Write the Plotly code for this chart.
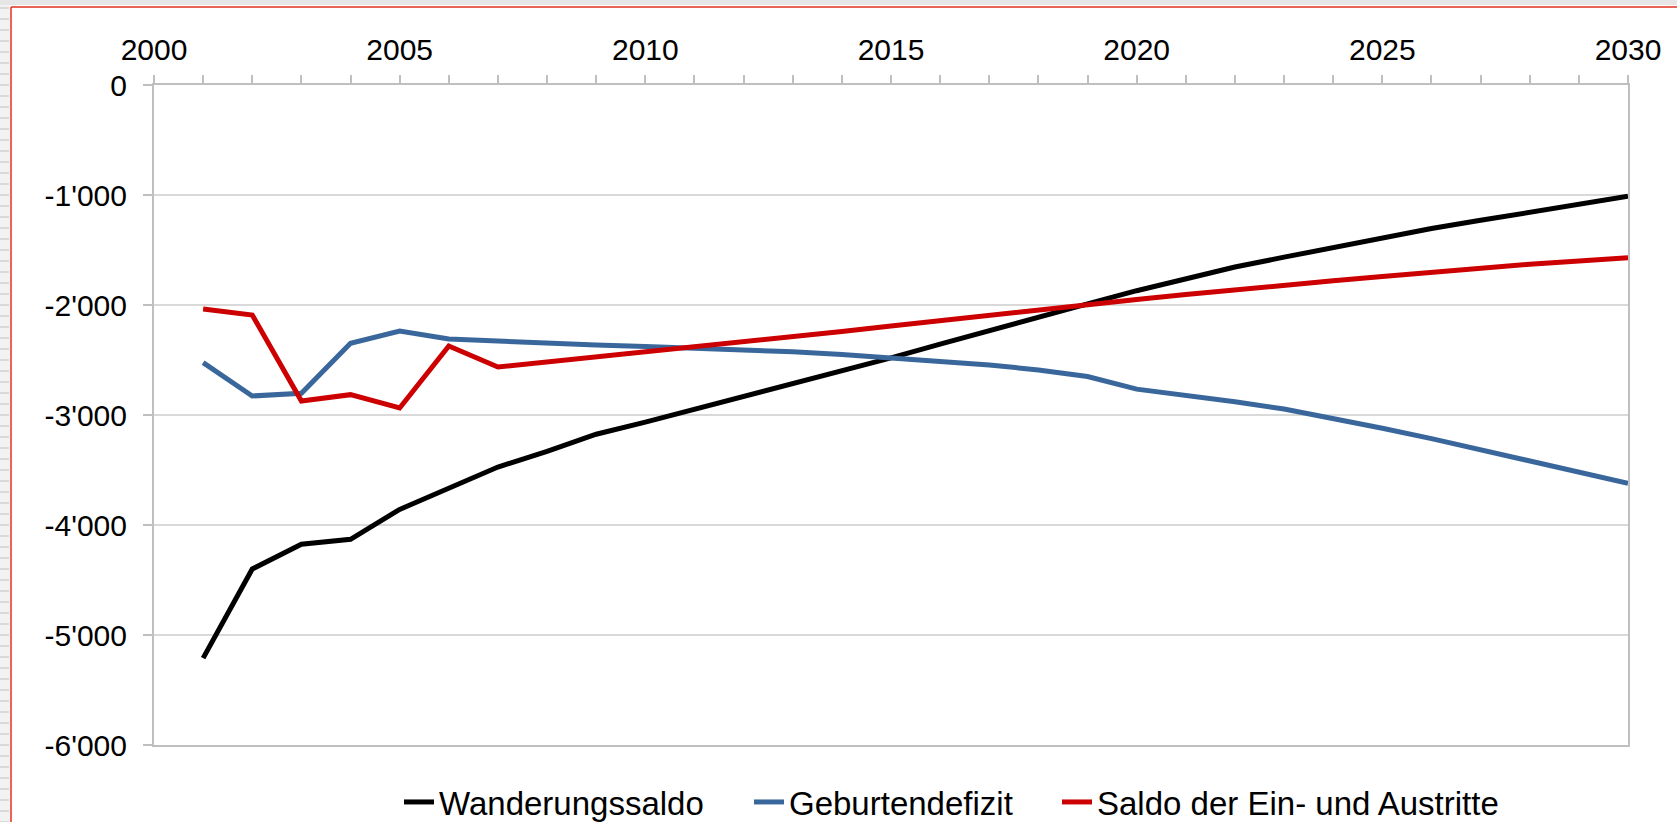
import plotly.graph_objects as go

years = list(range(2001, 2031))

wanderungssaldo = [-5210, -4400, -4175, -4130, -3858, -3667, -3473, -3330, -3175, -3065,
                   -2950, -2830, -2715, -2600, -2480, -2355, -2230, -2110, -1990, -1870,
                   -1760, -1655, -1565, -1475, -1390, -1305, -1230, -1155, -1085, -1012]

geburtendefizit = [-2524, -2827, -2803, -2348, -2236, -2309, -2327, -2348, -2364, -2378,
                   -2390, -2405, -2425, -2450, -2478, -2510, -2545, -2590, -2650, -2765,
                   -2820, -2880, -2945, -3030, -3120, -3215, -3315, -3415, -3515, -3620]

saldo_ein_aus = [-2036, -2091, -2873, -2815, -2936, -2373, -2564, -2518, -2473, -2430,
                 -2385, -2340, -2290, -2240, -2190, -2140, -2090, -2045, -1995, -1950,
                 -1905, -1860, -1820, -1780, -1740, -1700, -1665, -1630, -1600, -1570]

series_names = ["Wanderungssaldo", "Geburtendefizit", "Saldo der Ein- und Austritte"]
series_colors = ["#000000", "#3A679B", "#CC0000"]

x_tickvals = [2000, 2005, 2010, 2015, 2020, 2025, 2030]
x_ticktext = ["2000", "2005", "2010", "2015", "2020", "2025", "2030"]
y_tickvals = [0, -1000, -2000, -3000, -4000, -5000, -6000]
y_ticktext = ["0", "-1'000", "-2'000", "-3'000", "-4'000", "-5'000", "-6'000"]

W, H = 1677, 822
L, R, T, B = 154, 49, 85, 77
PW, PH = W - L - R, H - T - B


def px(x):
    return (x - L) / PW


def py(y):
    return (H - B - y) / PH


font = "Liberation Sans, Arial, sans-serif"
legend_ids = ["legend", "legend2", "legend3"]
legend_left_px = [399, 749, 1057]

fig = go.Figure()
for vals, name, color, lid in zip([wanderungssaldo, geburtendefizit, saldo_ein_aus], series_names,
                                  series_colors, legend_ids):
    fig.add_trace(go.Scatter(x=years, y=vals, mode="lines", name=name, legend=lid,
                             line=dict(color=color, width=5)))

axis_gray = "#BFBFBF"

shapes = []
shapes.append(dict(type="rect", xref="paper", yref="paper", x0=px(0), x1=px(10), y0=py(822), y1=py(0),
                   fillcolor="#F2F2F2", line=dict(width=0), layer="below"))
shapes.append(dict(type="rect", xref="paper", yref="paper", x0=px(0), x1=px(W), y0=py(5), y1=py(0),
                   fillcolor="#E6E6E6", line=dict(width=0), layer="below"))
for k in range(0, 75):
    yy = 8 + k * 11
    shapes.append(dict(type="line", xref="paper", yref="paper", x0=px(0), x1=px(9), y0=py(yy), y1=py(yy),
                       line=dict(color="#D9D9D9", width=2), layer="below"))
shapes.append(dict(type="line", xref="paper", yref="paper", x0=px(11), x1=px(W), y0=py(7), y1=py(7),
                   line=dict(color="#E0301E", width=1.5)))
shapes.append(dict(type="line", xref="paper", yref="paper", x0=px(11), x1=px(11), y0=py(7), y1=py(H),
                   line=dict(color="#E0301E", width=1.5)))

legend_common = dict(orientation="h", xanchor="left", y=py(802), yanchor="middle",
                     font=dict(size=33, family=font, color="#000000"), bgcolor="rgba(0,0,0,0)",
                     borderwidth=0)

layout_legends = {}
for lid, lx in zip(legend_ids, legend_left_px):
    layout_legends[lid] = dict(legend_common, x=px(lx))

fig.update_layout(
    width=W, height=H,
    margin=dict(l=L, r=R, t=T, b=B, pad=0, autoexpand=False),
    paper_bgcolor="white", plot_bgcolor="white",
    font=dict(family=font, color="#000000"),
    showlegend=True,
    shapes=shapes,
    xaxis=dict(side="top", range=[2000, 2030], tickvals=x_tickvals, ticktext=x_ticktext,
               ticks="outside", ticklen=8, tickcolor=axis_gray, tickwidth=1.5,
               minor=dict(dtick=1, tick0=2000, ticks="outside", ticklen=8, tickcolor=axis_gray, tickwidth=1.5,
                          showgrid=False),
               showgrid=False, showline=True, linecolor=axis_gray, linewidth=2, mirror=True,
               tickfont=dict(size=30, family=font, color="#000000"), zeroline=False,
               ticklabelstandoff=3, automargin=False),
    yaxis=dict(range=[-6000, 0], tickvals=y_tickvals, ticktext=y_ticktext,
               ticks="outside", ticklen=9, tickcolor=axis_gray, tickwidth=1.5,
               showgrid=True, gridcolor="#D9D9D9", gridwidth=1.5,
               showline=True, linecolor=axis_gray, linewidth=2, mirror=True,
               tickfont=dict(size=30, family=font, color="#000000"), zeroline=False,
               ticklabelstandoff=10, automargin=False),
    **layout_legends,
)

fig.write_html("out.html", config={"displayModeBar": False},
               post_script="document.body.style.margin='0';document.body.style.overflow='hidden';")
